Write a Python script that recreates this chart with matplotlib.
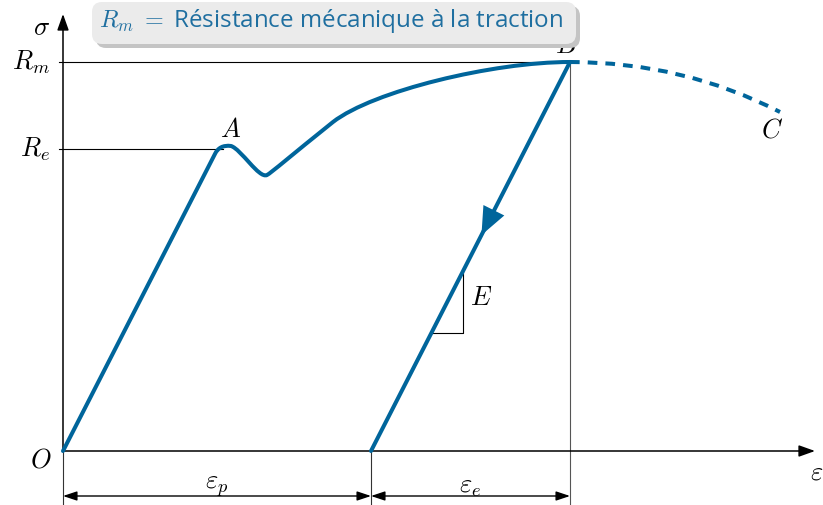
import matplotlib.pyplot as plt
from matplotlib.path import Path
from matplotlib.patches import PathPatch, FancyBboxPatch

# Diagramme contrainte-déformation (essai de traction)
plt.rcParams['mathtext.fontset'] = 'cm'

BLEU = '#00659b'
BLEU_TXT = '#1f6fa0'
FS = 19

# Points caractéristiques (unités du schéma, O à l'origine)
O = (0, 0)
Re = 302
Rm = 389
eps_p = 308
eps_B = 507
A = (168, 305)
creux = (204, 276)
coude = (270, 329)
C = (717, 339)
x_max, y_max = 752, 437

fig = plt.figure(figsize=(8.23, 5.05), dpi=100)
ax = fig.add_axes([0, 0, 1, 1])
ax.set_xlim(-63, 760)
ax.set_ylim(-54, 451)
ax.axis('off')

# axes avec flèches
fleche = dict(arrowstyle='-|>,head_length=0.7,head_width=0.25', color='black', lw=1.1,
              shrinkA=0, shrinkB=0, mutation_scale=14)
ax.annotate('', xy=(x_max, 0), xytext=O, arrowprops=fleche)
ax.annotate('', xy=(0, y_max), xytext=O, arrowprops=fleche)

# lignes de repère
ax.plot([-4, eps_B], [Rm, Rm], color='black', lw=0.8)
ax.plot([-4, A[0] - 8], [Re, Re], color='black', lw=0.8)
ax.plot([eps_B, eps_B], [Rm, -54], color='#555555', lw=0.8)
ax.plot([eps_p, eps_p], [0, -54], color='#333333', lw=0.8)
ax.plot([0, 0], [0, -54], color='#333333', lw=0.8)

# courbe de charge O -> A -> B
pente = Rm / (eps_B - eps_p)
x_fin = A[0] - 16
sommets = [O, (x_fin, x_fin * pente),
           (x_fin + 3, x_fin * pente + 6), (A[0] - 8, A[1] + 1), A,
           (A[0] + 10, A[1] - 3), (creux[0] - 8, creux[1] - 4), creux,
           (creux[0] + 4, creux[1] + 2), (230, 297), coude,
           (coude[0] + 40, coude[1] + 31), (eps_B - 77, Rm), (eps_B, Rm)]
codes = [Path.MOVETO, Path.LINETO] + [Path.CURVE4] * 12
ax.add_patch(PathPatch(Path(sommets, codes), fill=False, edgecolor=BLEU, lw=2.9,
                       capstyle='round', joinstyle='round', zorder=3))

# rupture B -> C (pointillés)
rupture = Path([(eps_B, Rm), (620, Rm), C], [Path.MOVETO, Path.CURVE3, Path.CURVE3])
ax.add_patch(PathPatch(rupture, fill=False, edgecolor=BLEU, lw=2.9,
                       linestyle=(0, (2.4, 2.0)), zorder=3))

# décharge B -> eps_p, flèche au milieu
ax.plot([eps_B, eps_p], [Rm, 0], color=BLEU, lw=2.9, solid_capstyle='round', zorder=3)
t = 0.555
pointe = (eps_p + t * Rm / pente, t * Rm)
ax.annotate('', xy=pointe, xytext=(pointe[0] + 13, pointe[1] + 26),
            arrowprops=dict(arrowstyle='-|>,head_length=1.0,head_width=0.42',
                            color=BLEU, lw=0, shrinkA=0, shrinkB=0, mutation_scale=20),
            zorder=4)

# triangle de pente E
y_bas = 118
x_tri = 400
ax.plot([eps_p + y_bas / pente, x_tri, x_tri], [y_bas, y_bas, (x_tri - eps_p) * pente],
        color='black', lw=0.8, zorder=2)
ax.text(x_tri + 7, 153, '$E$', fontsize=FS, ha='left', va='center')

# cotes eps_p et eps_e
cote = dict(arrowstyle='<|-|>,head_length=0.6,head_width=0.2', color='black', lw=1.0,
            shrinkA=0, shrinkB=0, mutation_scale=14)
ax.annotate('', xy=(0, -45), xytext=(eps_p, -45), arrowprops=cote)
ax.annotate('', xy=(eps_p, -45), xytext=(eps_B, -45), arrowprops=cote)
ax.text(eps_p / 2, -35, r'$\varepsilon_p$', fontsize=FS, ha='center', va='center')
ax.text((eps_p + eps_B) / 2, -35, r'$\varepsilon_e$', fontsize=FS, ha='center', va='center')

# étiquettes
ax.text(-13, Rm, '$R_m$', fontsize=FS, ha='right', va='center')
ax.text(-13, Re, '$R_e$', fontsize=FS, ha='right', va='center')
ax.text(-13, 423, r'$\sigma$', fontsize=FS, ha='right', va='center')
ax.text(-11, -10, '$O$', fontsize=FS, ha='right', va='center')
ax.text(754, -22, r'$\varepsilon$', fontsize=FS, ha='center', va='center')
ax.text(A[0], 321, '$A$', fontsize=FS, ha='center', va='center')
ax.text(503, 405, '$B$', fontsize=FS, ha='center', va='center', zorder=1)
ax.text(709, 320, '$C$', fontsize=FS, ha='center', va='center')

# encadré de titre avec ombre
ax.add_patch(FancyBboxPatch((33, 403), 484, 42, boxstyle='round,pad=0,rounding_size=10',
                            facecolor='#c4c4c4', edgecolor='none', zorder=5))
ax.add_patch(FancyBboxPatch((29, 407), 484, 42, boxstyle='round,pad=0,rounding_size=10',
                            facecolor='#ebebeb', edgecolor='none', zorder=6))
ax.text(268, 430, r'$R_m$ $=$ Résistance mécanique à la traction', fontsize=17.4,
        family='Open Sans', color=BLEU_TXT, ha='center', va='center', zorder=7)

fig.savefig('out.png', dpi=100)
